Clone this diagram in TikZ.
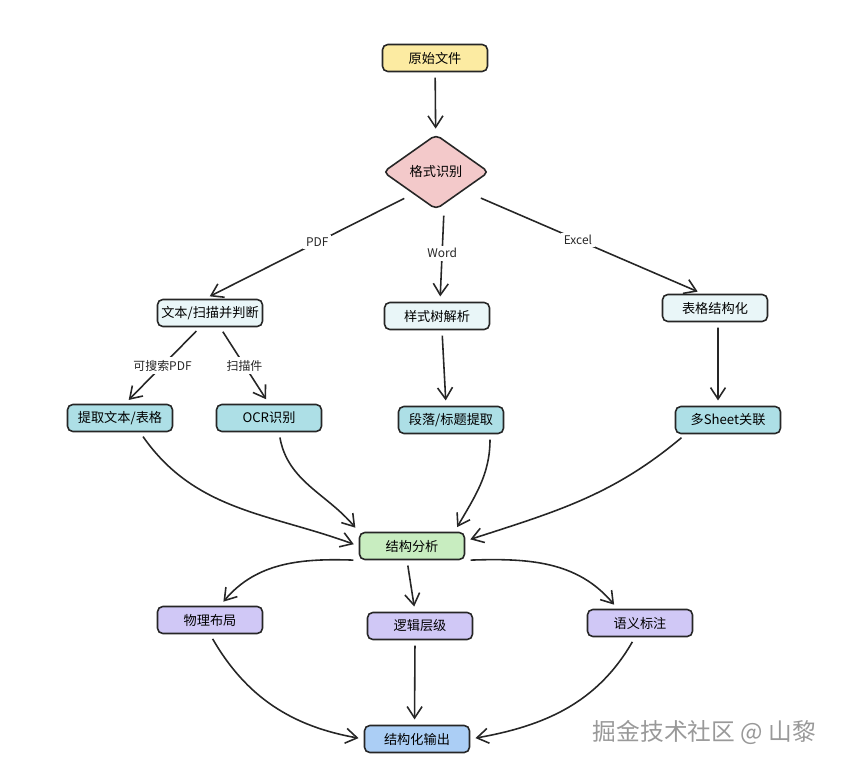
\documentclass[tikz,border=0pt]{standalone}
\usepackage{fontspec}
\setmainfont{Noto Sans CJK SC}
\usetikzlibrary{arrows.meta,shapes.geometric,positioning}
\definecolor{srcyellow}{HTML}{FCEBA2}
\definecolor{detpink}{HTML}{F3C9CA}
\definecolor{paleblue}{HTML}{E9F6F8}
\definecolor{tealfill}{HTML}{ADDFE6}
\definecolor{anagreen}{HTML}{C8EDC0}
\definecolor{lavender}{HTML}{D0C8F6}
\definecolor{outblue}{HTML}{ABCEF5}
\tikzset{
  stagebox/.style={draw=black!85,line width=0.9pt,rounded corners=3pt,
    minimum width=2.1cm,minimum height=0.54cm,inner sep=1pt,font=\fontsize{7.5}{8}\selectfont},
  edgelabel/.style={fill=white,inner sep=1.5pt,font=\fontsize{6.8}{7}\selectfont},
  flow/.style={draw,-{Straight Barb[length=6.5pt,width=8.5pt]},line width=0.9pt,black!85,shorten >=3pt,shorten <=3pt}
}

\begin{document}
\begin{tikzpicture}[x=0.02cm,y=-0.02cm,every edge/.append style={flow}]
      \useasboundingbox (0,0) rectangle (841,767);
      \node[stagebox,fill=srcyellow] (src) at (435,58) {原始文件};
      \node[diamond,draw=black!85,line width=0.9pt,rounded corners=3pt,fill=detpink,
        minimum width=2.12cm,minimum height=1.5cm,inner sep=0pt,
        font=\fontsize{7.5}{8}\selectfont] (fmt) at (436,172) {格式识别};

      \begin{scope}[every node/.style={stagebox,fill=paleblue}]
        \node (pdf) at (210,313) {文本/扫描并判断};
        \node (word) at (437,316) {样式树解析};
        \node (xls) at (715,308) {表格结构化};
      \end{scope}

      \begin{scope}[every node/.style={stagebox,fill=tealfill}]
        \node (ext) at (120,418) {提取文本/表格};
        \node (ocr) at (269,418) {OCR识别};
        \node (para) at (451,420) {段落/标题提取};
        \node (sheet) at (728,420) {多Sheet关联};
      \end{scope}

      \node[stagebox,fill=anagreen] (ana) at (412,546) {结构分析};

      \begin{scope}[every node/.style={stagebox,fill=lavender}]
        \node (phys) at (210,620) {物理布局};
        \node (logic) at (420,626) {逻辑层级};
        \node (sem) at (640,623) {语义标注};
      \end{scope}

      \node[stagebox,fill=outblue] (out) at (417,739) {结构化输出};

      \node[text=black!40,font=\fontsize{13.5}{14}\selectfont,anchor=east] (mark) at (822,732) {掘金技术社区 @ 山黎};

      \path (src) edge (fmt)
      ([xshift=-0.54cm,yshift=-0.48cm]fmt.center) edge node[edgelabel,pos=0.45] {PDF} ([xshift=-0.1cm]pdf.north)
      ([xshift=0.16cm]fmt.south) edge node[edgelabel,pos=0.47] {Word} ([xshift=0.06cm]word.north)
      ([xshift=0.8cm,yshift=-0.48cm]fmt.center) edge node[edgelabel,pos=0.45] {Excel} ([xshift=-0.25cm]xls.north)
      ([xshift=-0.2cm]pdf.south) edge node[edgelabel] {可搜索PDF} ([xshift=0.1cm]ext.north)
      ([xshift=0.2cm]pdf.south) edge node[edgelabel] {扫描件} (ocr.north)
      ([xshift=0.1cm]word.south) edge ([xshift=-0.1cm]para.north)
      ([xshift=0.06cm]xls.south) edge ([xshift=-0.2cm]sheet.north);

      \path ([xshift=0.4cm]ext.south) edge[out=-55,in=160] (ana.west)
      ([xshift=0.2cm]ocr.south) edge[out=-80,in=130] (ana.north west)
      ([xshift=0.78cm]para.south) edge[out=-90,in=60] ([xshift=0.85cm]ana.north)
      ([xshift=-0.85cm]sheet.south) edge[out=-140,in=18] ([yshift=0.1cm]ana.east)
      (ana.south west) edge[out=178,in=50] ([xshift=0.2cm]phys.north)
      ([xshift=-0.1cm]ana.south) edge ([xshift=-0.1cm]logic.north)
      (ana.south east) edge[out=2,in=130] ([xshift=-0.45cm]sem.north)
      (phys.south) edge[out=-60,in=170] (out.west)
      ([xshift=-0.1cm]logic.south) edge ([xshift=-0.05cm]out.north)
      ([xshift=-0.1cm]sem.south) edge[out=-120,in=10] (out.east);
\end{tikzpicture}
\end{document}
